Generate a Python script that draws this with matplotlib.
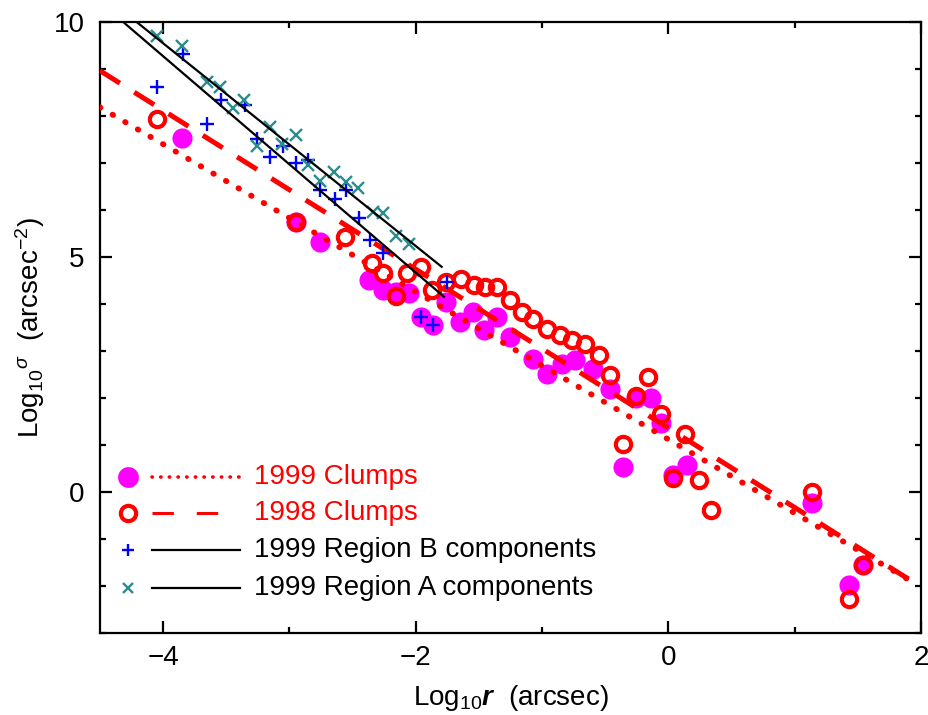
import numpy as np
import matplotlib
matplotlib.use("Agg")
import matplotlib.pyplot as plt

# log10 r (arcsec), log10 sigma (arcsec^-2)
c99_x = [-3.85, -2.95, -2.76, -2.37, -2.26, -2.16, -2.05, -1.96, -1.86, -1.76,
         -1.65, -1.55, -1.46, -1.36, -1.25, -1.07, -0.96, -0.84, -0.74, -0.60,
         -0.46, -0.26, -0.14, -0.06, -0.36, 0.04, 0.15, 1.14, 1.54, 1.43]
c99_y = [7.53, 5.75, 5.33, 4.51, 4.30, 4.25, 4.23, 3.73, 3.55, 4.05,
         3.62, 3.84, 3.45, 3.73, 3.30, 2.84, 2.52, 2.72, 2.80, 2.62,
         2.20, 1.99, 2.00, 1.46, 0.54, 0.36, 0.57, -0.24, -1.55, -1.98]

c98_x = [-4.05, -2.95, -2.56, -2.35, -2.26, -2.16, -2.07, -1.96, -1.87, -1.76,
         -1.64, -1.54, -1.45, -1.36, -1.25, -1.16, -1.07, -0.96, -0.86, -0.76,
         -0.66, -0.55, -0.46, -0.26, -0.16, -0.06, -0.36, 0.13, 0.04, 0.24,
         0.34, 1.14, 1.54, 1.43]
c98_y = [7.93, 5.75, 5.42, 4.87, 4.67, 4.17, 4.65, 4.79, 4.30, 4.47,
         4.53, 4.40, 4.37, 4.37, 4.09, 3.82, 3.68, 3.46, 3.34, 3.23,
         3.15, 2.91, 2.50, 2.04, 2.45, 1.67, 1.02, 1.23, 0.30, 0.26,
         -0.39, 0.01, -1.55, -2.28]

regB_x = [-4.05, -3.84, -3.65, -3.54, -3.35, -3.26, -3.15, -3.05, -2.95, -2.85,
          -2.76, -2.64, -2.55, -2.45, -2.36, -2.26, -1.96, -1.86, -1.75]
regB_y = [8.62, 9.33, 7.83, 8.34, 8.23, 7.52, 7.13, 7.36, 6.99, 7.06,
          6.43, 6.23, 6.43, 5.82, 5.36, 5.08, 3.73, 3.55, 4.47]

regA_x = [-4.05, -3.85, -3.65, -3.55, -3.45, -3.36, -3.26, -3.15, -3.06, -2.95,
          -2.85, -2.76, -2.65, -2.55, -2.46, -2.34, -2.26, -2.16, -2.05]
regA_y = [9.70, 9.49, 8.72, 8.62, 8.16, 8.34, 7.36, 7.76, 7.40, 7.60,
          6.95, 6.61, 6.81, 6.60, 6.46, 5.96, 5.93, 5.45, 5.28]

# power-law fits: log sigma = a + b log r, drawn over [x0, x1]
fit_c99 = (1.12, -1.57, -4.5, 1.93)
fit_c98 = (1.36, -1.69, -4.5, 1.91)
fit_B = (0.065, -2.302, -4.5, -1.777)
fit_A = (0.92, -2.157, -4.5, -1.795)

MAGENTA = "#ff00ff"
RED = "#ff0000"
BLUE = "#0000ff"
TEAL = "#2a8c8c"

plt.rcParams.update({
    "font.family": "Liberation Sans",
    "font.size": 20,
    "mathtext.fontset": "custom",
    "mathtext.rm": "Liberation Sans",
    "mathtext.it": "Liberation Sans:italic",
    "mathtext.bf": "Liberation Sans:bold",
    "mathtext.bfit": "Liberation Sans:italic:bold",
    "axes.linewidth": 1.6,
})


def fit_line(fit):
    a, b, x0, x1 = fit
    xx = np.linspace(x0, x1, 300)
    return xx, a + b * xx


fig = plt.figure(figsize=(9.29, 7.15), dpi=100)
ax = fig.add_axes([0.1076, 0.1147, 0.8838, 0.8545])

ax.plot(c99_x, c99_y, "o", ms=14.5, color=MAGENTA, mew=0, zorder=2)
xx, yy = fit_line(fit_c99)
ax.plot(xx, yy, color=RED, lw=4.2, ls=(0, (0.1, 2.4)),
        dash_capstyle="round", zorder=3)
ax.plot(c98_x, c98_y, "o", ms=11, mfc="none", mec=RED, mew=3, zorder=4)
xx, yy = fit_line(fit_c98)
ax.plot(xx, yy, color=RED, lw=3.6, ls=(0, (4.7, 3.4)), zorder=5)
ax.plot(regB_x, regB_y, "+", ms=10, mew=1.7, color=BLUE, zorder=6)
ax.plot(regA_x, regA_y, "x", ms=8, mew=1.7, color=TEAL, zorder=6)
for fit in (fit_B, fit_A):
    xx, yy = fit_line(fit)
    ax.plot(xx, yy, color="black", lw=1.6, zorder=7)

ax.set_xlim(-4.5, 2)
ax.set_ylim(-3, 10)
ax.set_xticks([-4, -2, 0, 2])
ax.set_xticks([-3, -1, 1], minor=True)
ax.set_yticks([0, 5, 10])
ax.set_yticks([v for v in range(-3, 10) if v % 5], minor=True)
ax.tick_params(which="both", direction="in", top=True, right=True, width=1.6)
ax.tick_params(which="major", length=8.5)
ax.tick_params(which="minor", length=4.5)
ax.tick_params(axis="x", pad=9)
ax.tick_params(axis="y", pad=11)

ax.set_xlabel(r"Log$_{10}\mathbfit{r}$  (arcsec)", labelpad=8)
ax.set_ylabel(r"Log$_{10}{}^{\sigma}$  (arcsec$^{-2}$)", labelpad=5)

# legend, drawn by hand: marker, line sample, label
rows = [0.256, 0.196, 0.136, 0.073]
tr = ax.transAxes
ax.plot(0.034, rows[0], "o", ms=15, color=MAGENTA, mew=0, transform=tr)
ax.plot([0.063, 0.171], [rows[0]] * 2, color=RED, lw=2.6,
        ls=(0, (0.1, 2.3)), dash_capstyle="round", transform=tr)
ax.plot(0.034, rows[1], "o", ms=11, mfc="none", mec=RED, mew=3, transform=tr)
ax.plot([0.063, 0.171], [rows[1]] * 2, color=RED, lw=2.2,
        ls=(0, (7, 7.5)), transform=tr)
ax.plot(0.034, rows[2], "+", ms=9, mew=1.7, color=BLUE, transform=tr)
ax.plot([0.063, 0.171], [rows[2]] * 2, color="black", lw=1.6, transform=tr)
ax.plot(0.034, rows[3], "x", ms=7, mew=1.7, color=TEAL, transform=tr)
ax.plot([0.063, 0.171], [rows[3]] * 2, color="black", lw=1.6, transform=tr)
labels = ["1999 Clumps", "1998 Clumps",
          "1999 Region B components", "1999 Region A components"]
colors = [RED, RED, "black", "black"]
for y, lab, c in zip(rows, labels, colors):
    ax.text(0.1876, y, lab, color=c, fontsize=20, va="center", ha="left",
            transform=tr)

fig.savefig("out.png", dpi=100)
